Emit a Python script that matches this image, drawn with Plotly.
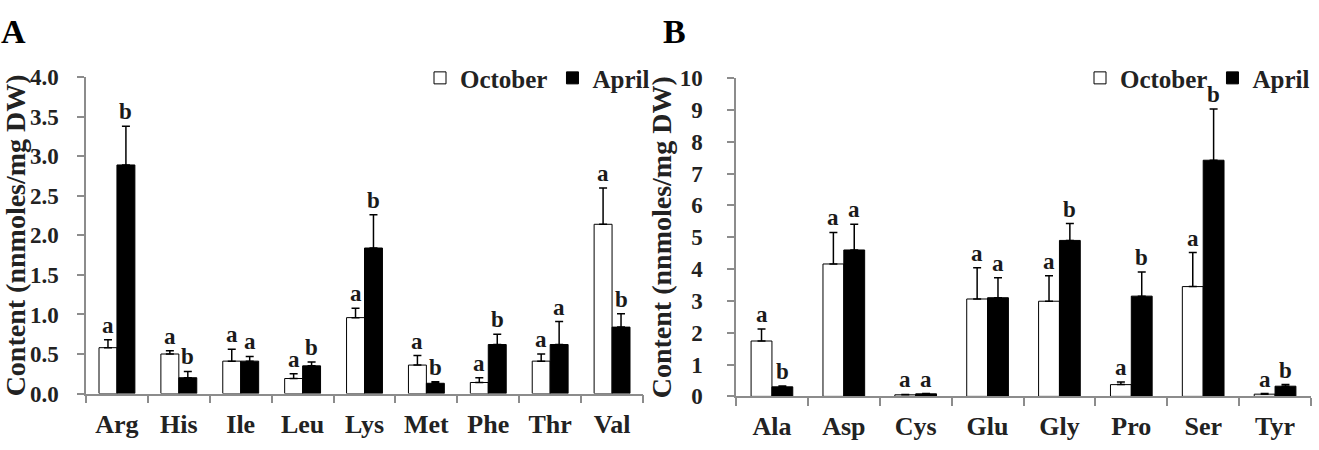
import plotly.graph_objects as go

# Panel A: essential amino acids
cats_a = ["Arg", "His", "Ile", "Leu", "Lys", "Met", "Phe", "Thr", "Val"]
oct_a = [0.58, 0.50, 0.41, 0.19, 0.96, 0.36, 0.14, 0.41, 2.14]
oct_a_err = [0.10, 0.04, 0.15, 0.06, 0.12, 0.12, 0.06, 0.09, 0.46]
apr_a = [2.89, 0.20, 0.41, 0.35, 1.84, 0.13, 0.62, 0.62, 0.84]
apr_a_err = [0.49, 0.08, 0.06, 0.05, 0.42, 0.02, 0.13, 0.29, 0.17]
lab_oct_a = ["a", "a", "a", "a", "a", "a", "a", "a", "a"]
lab_apr_a = ["b", "b", "a", "b", "b", "b", "b", "a", "b"]

# Panel B: non-essential amino acids
cats_b = ["Ala", "Asp", "Cys", "Glu", "Gly", "Pro", "Ser", "Tyr"]
oct_b = [1.74, 4.16, 0.05, 3.06, 2.99, 0.37, 3.45, 0.07]
oct_b_err = [0.38, 0.99, 0.01, 0.98, 0.80, 0.08, 1.07, 0.02]
apr_b = [0.30, 4.60, 0.08, 3.10, 4.90, 3.15, 7.42, 0.32]
apr_b_err = [0.03, 0.81, 0.01, 0.63, 0.53, 0.76, 1.61, 0.05]
lab_oct_b = ["a", "a", "a", "a", "a", "a", "a", "a"]
lab_apr_b = ["b", "a", "a", "a", "b", "b", "b", "b"]

FONT = "Times New Roman, Liberation Serif, serif"
AXCOL = "#8c8c8c"
BARGAP = 0.42

fig = go.Figure()

def add_pair(cats, ov, oe, av, ae, xa, ya, leg):
    fig.add_trace(go.Bar(
        x=cats, y=ov, name="<b>October</b>", xaxis=xa, yaxis=ya, legend=leg,
        marker=dict(color="white", line=dict(color="black", width=1)),
        error_y=dict(type="data", array=oe, arrayminus=[0] * len(oe), symmetric=False,
                     color="black", thickness=1.5, width=4),
    ))
    fig.add_trace(go.Bar(
        x=cats, y=av, name="<b>April</b>", xaxis=xa, yaxis=ya, legend=leg,
        marker=dict(color="black", line=dict(color="black", width=1)),
        error_y=dict(type="data", array=ae, arrayminus=[0] * len(ae), symmetric=False,
                     color="black", thickness=1.5, width=4),
    ))

add_pair(cats_a, oct_a, oct_a_err, apr_a, apr_a_err, "x", "y", "legend")
add_pair(cats_b, oct_b, oct_b_err, apr_b, apr_b_err, "x2", "y2", "legend2")

half = (1 - BARGAP) / 4.0
annots = []
def add_letters(vals, errs, labs, xref, yref, sign):
    for i, (v, e, t) in enumerate(zip(vals, errs, labs)):
        annots.append(dict(
            x=i + sign * half, y=v + e, xref=xref, yref=yref, text="<b>" + t + "</b>",
            showarrow=False, yanchor="bottom", yshift=0,
            font=dict(family=FONT, size=23, color="#1a1a1a"),
        ))

add_letters(oct_a, oct_a_err, lab_oct_a, "x", "y", -1)
add_letters(apr_a, apr_a_err, lab_apr_a, "x", "y", 1)
add_letters(oct_b, oct_b_err, lab_oct_b, "x2", "y2", -1)
add_letters(apr_b, apr_b_err, lab_apr_b, "x2", "y2", 1)

annots.append(dict(x=0, y=1.0, xref="paper", yref="paper", text="<b>A</b>", showarrow=False,
                   xanchor="left", yanchor="top", borderpad=0,
                   font=dict(family=FONT, size=34, color="black")))
annots.append(dict(x=662 / 1319, y=1.0, xref="paper", yref="paper", text="<b>B</b>", showarrow=False,
                   xanchor="left", yanchor="top", borderpad=0,
                   font=dict(family=FONT, size=34, color="black")))

xcommon = dict(type="category", showline=True, linecolor=AXCOL, linewidth=1.5,
               ticks="outside", tickson="boundaries", ticklen=8, tickcolor=AXCOL, tickwidth=1.5,
               tickfont=dict(family=FONT, size=26, color="#222", weight="bold"),
               ticklabelstandoff=6, showgrid=False, zeroline=False)
ycommon = dict(showline=True, linecolor=AXCOL, linewidth=1.5, ticks="outside", ticklen=7,
               tickcolor=AXCOL, tickwidth=1.5, showgrid=False, zeroline=False,
               tickfont=dict(family=FONT, size=23, color="#222", weight="bold"),
               title=dict(text="<b>Content (nnmoles/mg DW)</b>", standoff=0,
                          font=dict(family=FONT, size=28, color="#222")))

leg = dict(orientation="h", xanchor="left", yanchor="middle", bgcolor="rgba(0,0,0,0)",
           font=dict(family=FONT, size=25, color="#222"),
           itemwidth=30, tracegroupgap=0, itemclick=False)

fig.update_layout(
    width=1319, height=450,
    margin=dict(l=0, r=0, t=0, b=0),
    paper_bgcolor="white", plot_bgcolor="white",
    barmode="group", bargap=BARGAP, bargroupgap=0,
    font=dict(family=FONT, color="#222"),
    xaxis=dict(domain=[86 / 1319, 643 / 1319], anchor="y", **xcommon),
    yaxis=dict(domain=[1 - 404 / 450, 1 - 69 / 450], anchor="x", range=[0, 4], dtick=0.5,
               tickformat=".1f", ticklabelstandoff=14, **ycommon),
    xaxis2=dict(domain=[736 / 1319, 1311 / 1319], anchor="y2", **xcommon),
    yaxis2=dict(domain=[1 - 407 / 450, 1 - 70 / 450], anchor="x2", range=[0, 10], dtick=1,
                ticklabelstandoff=20, **ycommon),
    legend=dict(x=420 / 1319, y=1 - 70 / 450, **leg),
    legend2=dict(x=1080 / 1319, y=1 - 70 / 450, **leg),
    annotations=annots,
)

fig.write_html("out.html")
